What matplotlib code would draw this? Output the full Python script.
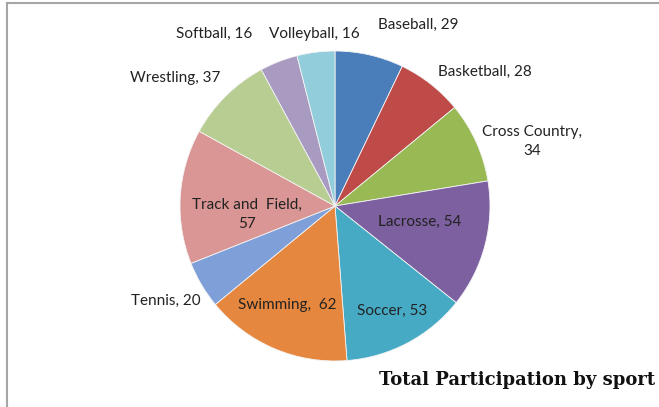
import matplotlib
matplotlib.use('Agg')
import matplotlib.pyplot as plt
from matplotlib.lines import Line2D

sports = ['Baseball', 'Basketball', 'Cross Country', 'Lacrosse', 'Soccer', 'Swimming',
          'Tennis', 'Track and Field', 'Wrestling', 'Softball', 'Volleyball']
participants = [29, 28, 34, 54, 53, 62, 20, 57, 37, 16, 16]
colors = ['#4A7EBB', '#BE4B48', '#98B954', '#7D60A0', '#46AAC5', '#E5873E',
          '#7F9FD9', '#D99694', '#B7CD92', '#A89AC0', '#92CDDC']
label_text = ['Baseball, 29', 'Basketball, 28', 'Cross Country,\n34', 'Lacrosse, 54',
              'Soccer, 53', 'Swimming,  62', 'Tennis, 20', 'Track and  Field,\n57',
              'Wrestling, 37', 'Softball, 16', 'Volleyball, 16']
# label positions in pie units (radius = 1)
label_pos = [(0.540, 1.168), (0.968, 0.865), (1.271, 0.419), (0.548, -0.103),
             (0.368, -0.677), (-0.310, -0.639), (-1.090, -0.613), (-0.568, -0.052),
             (-1.032, 0.826), (-0.781, 1.110), (-0.135, 1.110)]

W, H = 659, 407
fig = plt.figure(figsize=(W / 100, H / 100), dpi=100)
fig.patch.set_facecolor('white')

cx, cy, r = 335, 206, 155
ax = fig.add_axes([(cx - r) / W, (H - cy - r) / H, 2 * r / W, 2 * r / H])
ax.pie(participants, colors=colors, startangle=90, counterclock=False, radius=1,
       wedgeprops=dict(edgecolor='#f4f4f4', linewidth=0.6))
ax.set_xlim(-1, 1)
ax.set_ylim(-1, 1)
ax.axis('off')

for txt, (x, y) in zip(label_text, label_pos):
    ax.text(x, y, txt, ha='center', va='center', fontsize=11, family='Lato',
            color='#222222', linespacing=1.45, clip_on=False)

fig.text(655 / W, 1 - 380 / H, 'Total Participation by sport', ha='right', va='center',
         fontsize=13, fontweight='bold', family='DejaVu Serif', color='#111111')

# chart border (only top and left visible)
fig.add_artist(Line2D([7 / W, 7 / W], [0, 1 - 3 / H], color='#a6a6a6', lw=1.5))
fig.add_artist(Line2D([7 / W, 1], [1 - 3 / H, 1 - 3 / H], color='#a6a6a6', lw=1.5))

fig.savefig('out.png', dpi=100)
